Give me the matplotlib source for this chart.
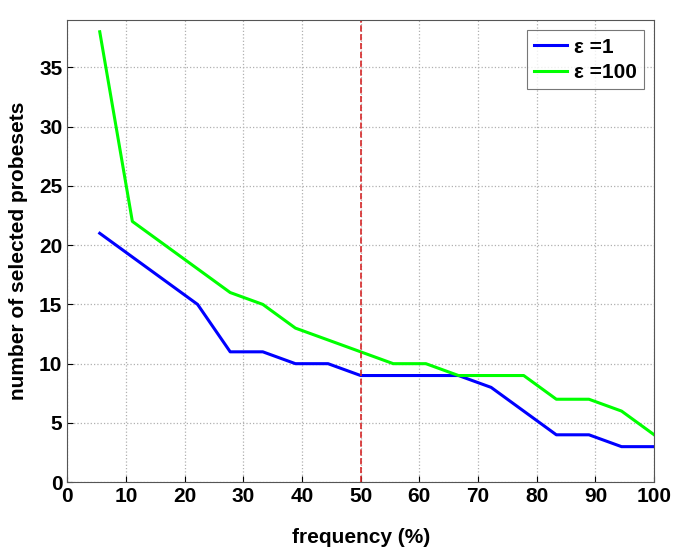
import matplotlib
matplotlib.use("Agg")
import matplotlib.pyplot as plt
import numpy as np

freq = [100 * i / 18 for i in range(1, 19)]
eps1 = [21, 19, 17, 15, 11, 11, 10, 10, 9, 9, 9, 9, 8, 6, 4, 4, 3, 3]
eps100 = [38, 22, 20, 18, 16, 15, 13, 12, 11, 10, 10, 9, 9, 9, 7, 7, 6, 4]
labels = ["\u03b5 =1", "\u03b5 =100"]
threshold = 50

plt.rcParams['font.family'] = ['Liberation Sans Narrow', 'Liberation Sans', 'DejaVu Sans']
plt.rcParams['font.weight'] = 'bold'

fig = plt.figure(figsize=(6.85, 5.53), dpi=100)
ax = fig.add_axes([0.098, 0.128, 0.857, 0.836])

ax.plot(freq, eps1, color='#0000ff', lw=2.2, label=labels[0])
ax.plot(freq, eps100, color='#00ff00', lw=2.2, label=labels[1])
ax.axvline(threshold, color='#d62728', ls='--', lw=1.2)

ax.set_xlim(0, 100)
ax.set_ylim(0, 39)
ax.set_xticks(np.arange(0, 101, 10))
ax.set_yticks(np.arange(0, 36, 5))
ax.grid(True, color='#b0b0b0', ls=':', lw=0.9)
ax.tick_params(labelsize=15, direction='in', length=4, width=0.8)
for lab in ax.get_xticklabels() + ax.get_yticklabels():
    lab.set_fontweight('bold')
for s in ax.spines.values():
    s.set_color('#555555')
    s.set_linewidth(0.8)

ax.set_xlabel('frequency (%)', fontsize=15, fontweight='bold', labelpad=16)
ax.set_ylabel('number of selected probesets', fontsize=15, fontweight='bold', labelpad=8)

leg = ax.legend(loc='upper right', fontsize=15, frameon=True, fancybox=False,
                edgecolor='#555555', handlelength=1.6, handletextpad=0.3,
                borderpad=0.35, labelspacing=0.3, borderaxespad=0.5)
leg.get_frame().set_linewidth(0.8)
for t in leg.get_texts():
    t.set_fontweight('bold')

fig.savefig('out.png', dpi=100)
